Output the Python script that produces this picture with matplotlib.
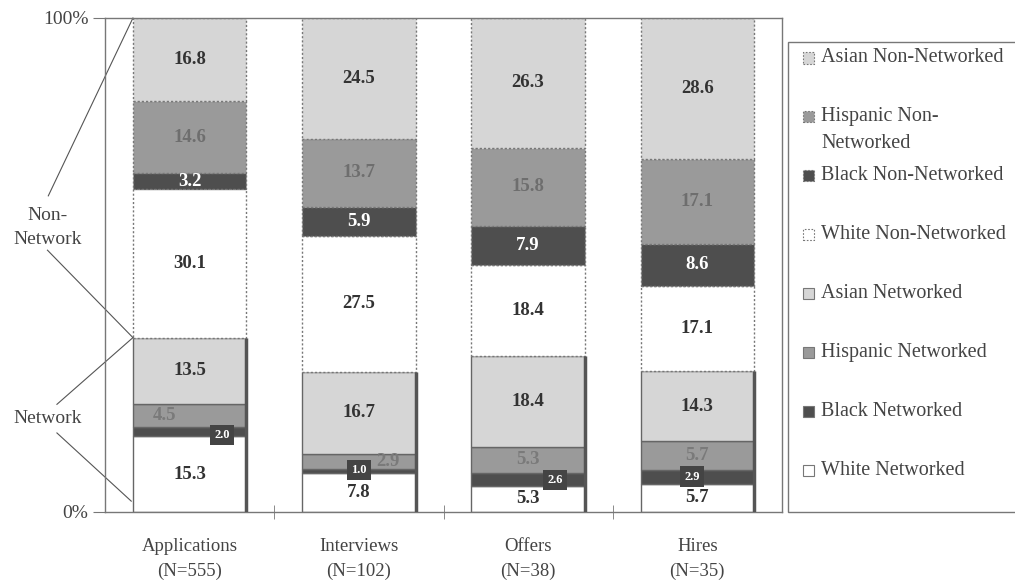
import matplotlib
matplotlib.use('Agg')
import matplotlib.pyplot as plt
from matplotlib.patches import Rectangle
import numpy as np

plt.rcParams['font.family'] = ['Liberation Serif', 'DejaVu Serif']

# ---------------- data ----------------
categories = ['Applications', 'Interviews', 'Offers', 'Hires']
sample_sizes = [555, 102, 38, 35]
series_names = ['White Networked', 'Black Networked', 'Hispanic Networked', 'Asian Networked',
                'White Non-Networked', 'Black Non-Networked', 'Hispanic Non-Networked',
                'Asian Non-Networked']
white_net = [15.3, 7.8, 5.3, 5.7]
black_net = [2.0, 1.0, 2.6, 2.9]
hisp_net = [4.5, 2.9, 5.3, 5.7]
asian_net = [13.5, 16.7, 18.4, 14.3]
white_non = [30.1, 27.5, 18.4, 17.1]
black_non = [3.2, 5.9, 7.9, 8.6]
hisp_non = [14.6, 13.7, 15.8, 17.1]
asian_non = [16.8, 24.5, 26.3, 28.6]
series_values = [white_net, black_net, hisp_net, asian_net,
                 white_non, black_non, hisp_non, asian_non]
legend_labels = ['White Networked', 'Black Networked', 'Hispanic Networked', 'Asian Networked',
                 'White Non-Networked', 'Black Non-Networked', 'Hispanic Non-\nNetworked',
                 'Asian Non-Networked']

# ---------------- styles ----------------
LIGHT, MID, DARK = '#d6d6d6', '#9a9a9a', '#4e4e4e'
fills = ['white', DARK, MID, LIGHT, 'white', DARK, MID, LIGHT]
networked = [True] * 4 + [False] * 4
txt_colors = ['#333333', 'white', '#7a7a7a', '#333333',
              '#333333', 'white', '#6e6e6e', '#333333']
# label offsets (layout only)
label_dx = {1: [0.19, 0.0, 0.16, -0.03], 2: [-0.15, 0.17, 0.0, 0.0]}
label_dy = {1: [-0.7, 0.2, -0.1, 0.0]}

W, H = 1015, 584
fig = plt.figure(figsize=(W / 100, H / 100), dpi=100)
ax = fig.add_axes([105 / W, 1 - 512 / H, (782 - 105) / W, (512 - 18) / H])

x = np.arange(len(categories))
width = 0.67
bottom = np.zeros(len(categories))
for i, vals in enumerate(series_values):
    vals = np.array(vals)
    if networked[i]:
        ax.bar(x, vals, width, bottom=bottom, color=fills[i], edgecolor='#666666',
               linewidth=1.0, zorder=2)
    else:
        ax.bar(x, vals, width, bottom=bottom, color=fills[i], edgecolor='#777777',
               linewidth=1.0, linestyle=(0, (1.5, 1.5)), zorder=2)
    for j, v in enumerate(vals):
        dx = label_dx.get(i, [0] * 4)[j]
        dy = label_dy.get(i, [0] * 4)[j]
        yc = bottom[j] + v / 2 + dy
        if i == 1:
            ax.text(x[j] + dx, yc, f'{v:.1f}', ha='center', va='center', fontsize=9,
                    fontweight='bold', color='white', zorder=5,
                    bbox=dict(boxstyle='square,pad=0.35', fc='#444444', ec='none'))
        else:
            ax.text(x[j] + dx, yc, f'{v:.1f}', ha='center', va='center', fontsize=13.5,
                    fontweight='bold', color=txt_colors[i], zorder=4)
    bottom = bottom + vals

net_total = np.array(white_net) + np.array(black_net) + np.array(hisp_net) + np.array(asian_net)
ax.vlines(x + width / 2, 0, net_total, color='#555555', lw=2.5, zorder=3)

# axes formatting
ax.set_xlim(-0.5, 3.5)
ax.set_ylim(0, 100)
ax.set_yticks([0, 100])
ax.set_yticklabels(['0%', '100%'], fontsize=14, color='#444444')
ax.tick_params(axis='y', length=9, color='#777777', pad=3)
ax.set_xticks(x)
ax.set_xticklabels([f'{c}\n(N={n})' for c, n in zip(categories, sample_sizes)],
                   fontsize=13.5, color='#444444', linespacing=1.55)
ax.tick_params(axis='x', which='major', length=0, pad=19)
ax.set_xticks(x[:-1] + 0.5, minor=True)
ax.tick_params(axis='x', which='minor', length=10, direction='inout', color='#777777')
for s in ax.spines.values():
    s.set_color('#777777')
    s.set_linewidth(1.0)

# bracket annotations
left_edge = x[0] - width / 2
lc = '#555555'
ax.text(-0.837, 57.6, 'Non-\nNetwork', ha='center', va='center', fontsize=14,
        color='#444444', linespacing=1.6)
ax.plot([-0.835, left_edge], [64.0, 100], color=lc, lw=0.8, clip_on=False)
ax.plot([-0.84, left_edge], [53.0, net_total[0]], color=lc, lw=0.8, clip_on=False)
ax.text(-0.837, 19.0, 'Network', ha='center', va='center', fontsize=14, color='#444444')
ax.plot([-0.784, left_edge], [21.8, net_total[0]], color=lc, lw=0.8, clip_on=False)
ax.plot([-0.784, left_edge - 0.01], [16.0, 2.2], color=lc, lw=0.8, clip_on=False)

# legend (manual, reversed order)
def fx(px):
    return px / W

def fy(py):
    return 1 - py / H

fig.add_artist(Rectangle((fx(788), fy(512)), fx(1030) - fx(788), fy(42) - fy(512),
                         transform=fig.transFigure, fc='white', ec='#777777', lw=1.0))
order = list(range(len(series_names)))[::-1]
for k, i in enumerate(order):
    yc = 58 + 58.9 * k
    ls = '-' if networked[i] else (0, (1.5, 1.5))
    fig.add_artist(Rectangle((fx(803), fy(yc + 5.5)), fx(11), 11 / H,
                             transform=fig.transFigure, fc=fills[i],
                             ec='#777777', lw=0.8, linestyle=ls))
    for ln, line in enumerate(legend_labels[i].split('\n')):
        fig.text(fx(821), fy(yc + 27 * ln), line, ha='left', va='center',
                 fontsize=14.5, color='#444444')

fig.savefig('out.png', dpi=100)
